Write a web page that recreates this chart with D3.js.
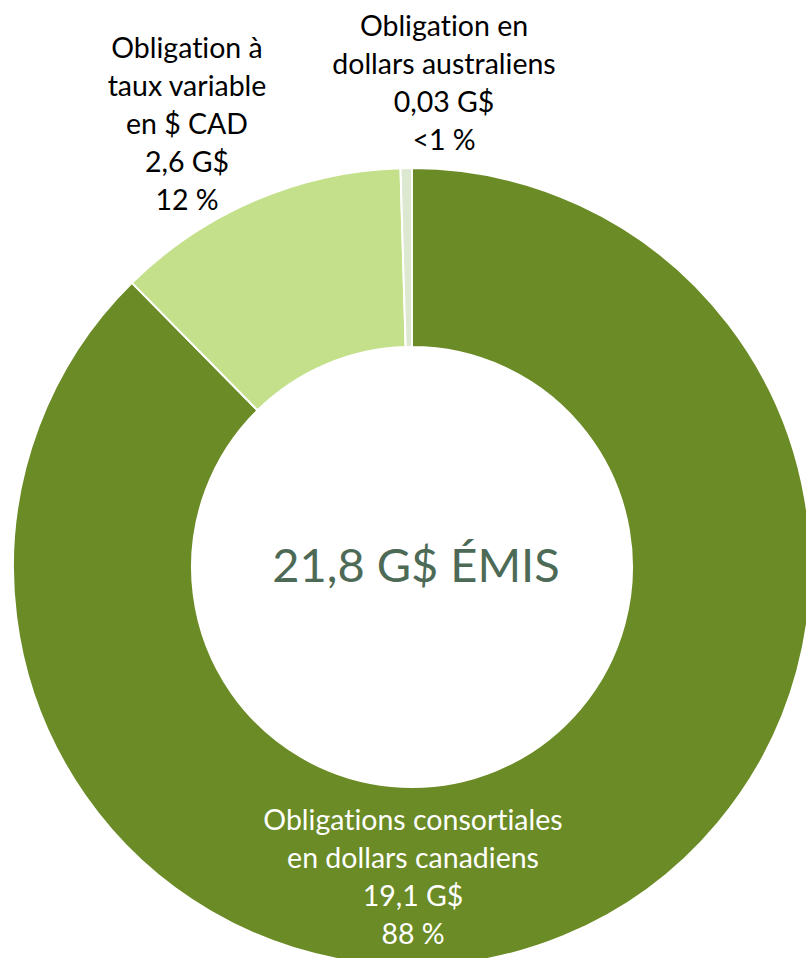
<!DOCTYPE html>
<html>
<head>
<meta charset="utf-8">
<script src="https://cdn.jsdelivr.net/npm/d3@7"></script>
<style>
  html, body { margin: 0; padding: 0; background: #ffffff; }
  svg { display: block; }
  text { font-family: Lato, "Open Sans", sans-serif; font-variant-ligatures: none; font-feature-settings: "liga" 0; }
</style>
</head>
<body>
<div id="chart"></div>
<script>
// ---- data ----
const categories = [
  "Obligations consortiales en dollars canadiens",
  "Obligation à taux variable en $ CAD",
  "Obligation en dollars australiens"
];
const values = [19.1, 2.6, 0.1]; // slice sizes as drawn (G$)
const valueLabels = ["19,1 G$", "2,6 G$", "0,03 G$"];
const percentLabels = ["88 %", "12 %", "<1 %"];
const nameLines = [
  ["Obligations consortiales", "en dollars canadiens"],
  ["Obligation à", "taux variable", "en $ CAD"],
  ["Obligation en", "dollars australiens"]
];
const centerLabel = "21,8 G$ ÉMIS";
const colors = ["#6a8b25", "#c4e08a", "#dce8cf"];

// ---- layout ----
const W = 806, H = 958;
const cx = 412, cy = 567, outerR = 399, innerR = 220;

const svg = d3.select("#chart").append("svg")
  .attr("width", W).attr("height", H);

const pie = d3.pie().sort(null).value(d => d);
const arc = d3.arc().innerRadius(innerR).outerRadius(outerR);
const color = d3.scaleOrdinal().domain(d3.range(values.length)).range(colors);

const g = svg.append("g").attr("transform", `translate(${cx},${cy})`);
g.selectAll("path")
  .data(pie(values))
  .join("path")
  .attr("d", arc)
  .attr("fill", (d, i) => color(i))
  .attr("stroke", "#ffffff")
  .attr("stroke-width", 2);

// center label
svg.append("text")
  .attr("x", 416).attr("y", 582)
  .attr("text-anchor", "middle")
  .attr("font-size", 47)
  .attr("fill", "#4d6a56")
  .text(centerLabel);

// slice labels
const labelPos = [
  { x: 413, y: 830, fill: "#ffffff" },
  { x: 187, y: 58, fill: "#000000" },
  { x: 444, y: 36, fill: "#000000" }
];
const lineH = 38;
categories.forEach((c, i) => {
  const lines = nameLines[i].concat([valueLabels[i], percentLabels[i]]);
  const t = svg.append("text")
    .attr("text-anchor", "middle")
    .attr("font-size", 28.5)
    .attr("fill", labelPos[i].fill);
  lines.forEach((ln, j) => {
    t.append("tspan")
      .attr("x", labelPos[i].x)
      .attr("y", labelPos[i].y + j * lineH)
      .text(ln);
  });
});
</script>
</body>
</html>
